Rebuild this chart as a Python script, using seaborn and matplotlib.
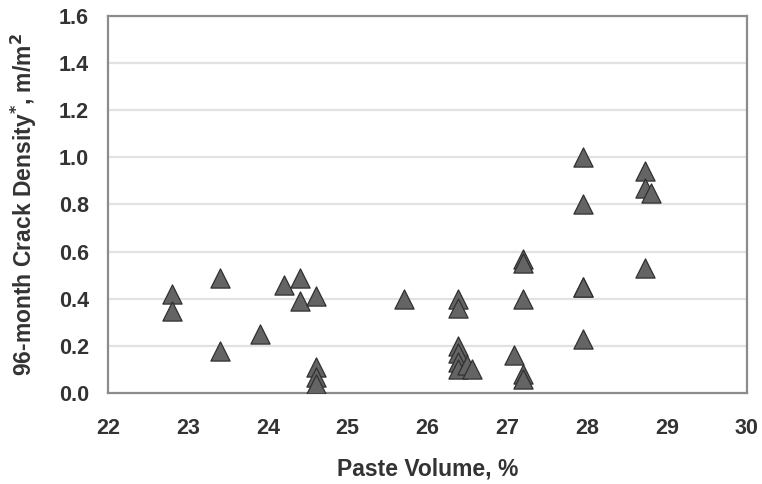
import matplotlib
matplotlib.use('Agg')
import matplotlib.pyplot as plt
import seaborn as sns
import pandas as pd

# values
paste_volume = [22.8, 22.8, 23.4, 23.4, 23.9, 24.2, 24.4, 24.4, 24.6, 24.6, 24.6, 24.6,
                25.7, 26.38, 26.38, 26.38, 26.38, 26.38, 26.38, 26.5, 26.56,
                27.08, 27.2, 27.2, 27.2, 27.2, 27.2,
                27.95, 27.95, 27.95, 27.95, 27.95, 28.72, 28.72, 28.8, 28.72]
crack_density = [0.42, 0.35, 0.49, 0.18, 0.25, 0.46, 0.49, 0.39, 0.41, 0.11, 0.07, 0.04,
                 0.40, 0.40, 0.36, 0.20, 0.17, 0.13, 0.10, 0.12, 0.10,
                 0.16, 0.57, 0.55, 0.40, 0.08, 0.06,
                 1.00, 0.80, 0.45, 0.23, 0.45, 0.94, 0.87, 0.85, 0.53]
x_ticks = [22, 23, 24, 25, 26, 27, 28, 29, 30]
y_ticks = [0.0, 0.2, 0.4, 0.6, 0.8, 1.0, 1.2, 1.4, 1.6]

df = pd.DataFrame({'paste': paste_volume, 'crack': crack_density})

sns.set_style('white')
plt.rcParams['font.family'] = ['Liberation Sans', 'DejaVu Sans']
plt.rcParams['font.weight'] = 'bold'

fig = plt.figure(figsize=(7.62, 4.84), dpi=100)
ax = fig.add_axes([0.142, 0.188, 0.838, 0.779])

# light horizontal grid
for y in y_ticks[1:]:
    ax.axhline(y, color='#e2e2e2', lw=1.6, zorder=0)

sns.scatterplot(data=df, x='paste', y='crack', marker='^', s=190,
                color='#646464', edgecolor='#303030', linewidth=0.9, ax=ax, zorder=3)

ax.set_xlim(22, 30)
ax.set_ylim(0, 1.6)
ax.set_xticks(x_ticks)
ax.set_yticks(y_ticks)
ax.set_yticklabels([f'{v:.1f}' for v in y_ticks])
ax.tick_params(axis='both', direction='out', length=6, width=1.2, color='#888888',
               labelsize=15.5, labelcolor='#333333')
ax.tick_params(axis='x', pad=12)
ax.tick_params(axis='y', pad=8)
for s in ax.spines.values():
    s.set_color('#8c8c8c')
    s.set_linewidth(1.6)

ax.set_xlabel('Paste Volume, %', fontsize=16.5, fontweight='bold', color='#333333', labelpad=13)
ax.set_ylabel('96-month Crack Density$^{*}$, m/m$^{2}$', fontsize=16.5, fontweight='bold',
              color='#333333', labelpad=14)

fig.savefig('out.png', dpi=100)
